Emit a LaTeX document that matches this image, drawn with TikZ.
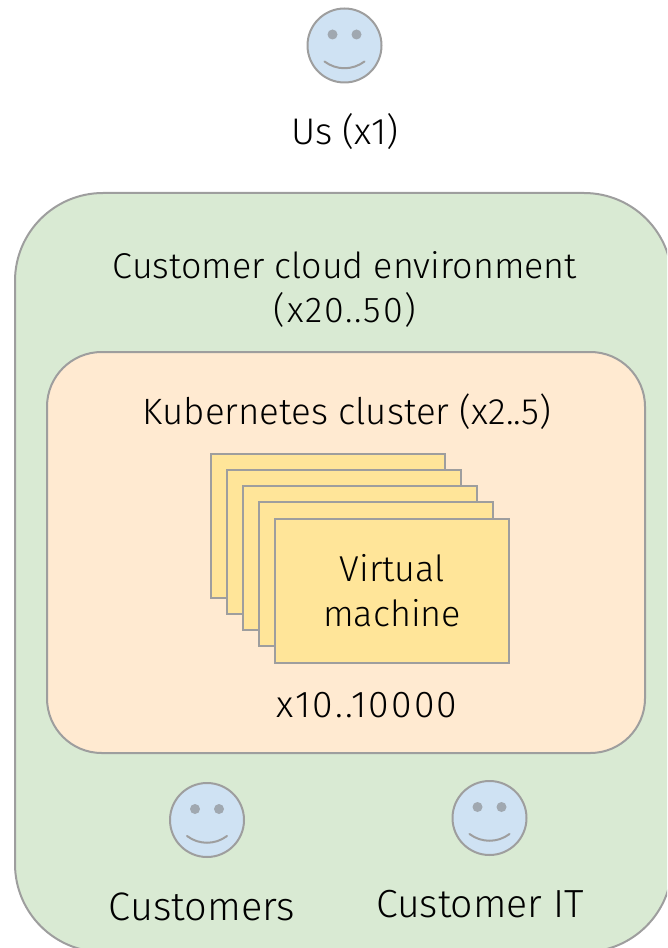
\documentclass[tikz,border=0pt]{standalone}
\usepackage{fontspec}
\setmainfont{Fira Sans Light}
\definecolor{edge}{HTML}{9E9E9E}
\definecolor{gbg}{HTML}{D9EAD3}
\definecolor{obg}{HTML}{FFEAD1}
\definecolor{ybg}{HTML}{FFE599}
\definecolor{bbg}{HTML}{CFE2F3}
\definecolor{eyec}{HTML}{A0A8B0}
\newcommand{\fsz}[1]{\fontsize{#1}{33.5}\selectfont}
\tikzset{
  region/.style={draw=edge,line width=1.5pt,fill=#1},
  vmbox/.style={draw=edge,line width=1.5pt,fill=ybg,minimum width=175.8pt,minimum height=108pt,inner sep=0pt,outer sep=0pt,anchor=north west,align=center,font=\fsz{27}},
  facecircle/.style={circle,draw=edge,line width=1.5pt,fill=bbg,minimum size=55.5pt,inner sep=0pt},
  lbl/.style={inner sep=0pt,align=center,text=black},
  eye/.style={fill=eyec,draw=none}
}
\newcommand{\smiley}[3]{%
  \node[facecircle] (#1) at (#2,#3) {};
  \fill[eye] ([shift={(-12,-11)}]#1.center) circle (5);
  \fill[eye] ([shift={(12,-11)}]#1.center) circle (5);
  \draw[edge,line width=1.5pt,line cap=round] ([shift={(-20,16)}]#1.center) .. controls ([shift={(-8,25)}]#1.center) and ([shift={(8,25)}]#1.center) .. ([shift={(20,16)}]#1.center);
}
\begin{document}
\begin{tikzpicture}[x=0.75pt,y=-0.75pt]
\useasboundingbox (0,0) rectangle (667,948);
\clip (0,0) rectangle (667,948);
\draw[region=gbg,rounded corners=66pt] (15,193) rectangle (672,952);
\draw[region=obg,rounded corners=41pt] (47,352) rectangle (645,753);
\node[vmbox] (vm1) at (211,454) {};
\node[vmbox] (vm2) at (227,470) {};
\node[vmbox] (vm3) at (243,486) {};
\node[vmbox] (vm4) at (259,502) {};
\node[vmbox] (vm5) at (275,518.5) {Virtual\\machine};
\smiley{us}{344.5}{45.5}
\smiley{cust}{207}{820}
\smiley{custit}{489.5}{818}
\node[lbl,font=\fsz{27.8}] (usl) at (345,132) {Us (x1)};
\node[lbl,font=\fsz{26.9}] (cloud) at (345,289.5) {Customer cloud environment\\{\addfontfeature{LetterSpace=4.9}(x20..50)}};
\node[lbl,font=\fsz{27.5}] (k8s) at (347,412) {Kubernetes cluster (x2..5)};
\node[lbl,font=\fsz{28}\addfontfeature{LetterSpace=5.7}] (count) at (367,705.5) {x10..10000};
\node[lbl,font=\fsz{29.8}] (custl) at (202,906.5) {Customers};
\node[lbl,font=\fsz{29.4}] (itl) at (480,904.5) {Customer IT};
\end{tikzpicture}
\end{document}
